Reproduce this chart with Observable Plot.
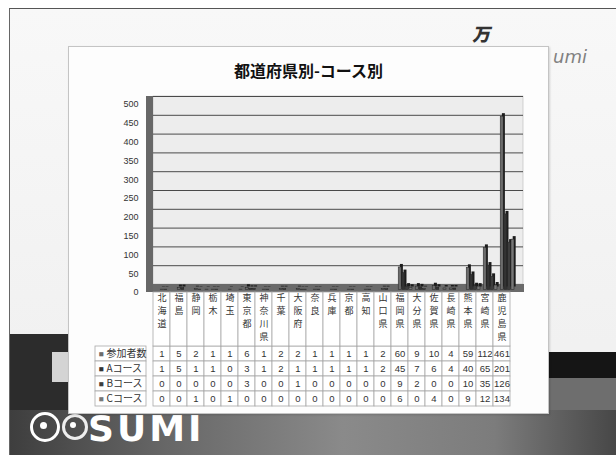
<!DOCTYPE html>
<html><head><meta charset="utf-8">
<script src="https://cdn.jsdelivr.net/npm/d3@7"></script>
<script src="https://cdn.jsdelivr.net/npm/@observablehq/plot@0.6"></script>
<style>
body{margin:0;background:#fff;}
#page{position:relative;width:616px;height:455px;overflow:hidden;background:#fff;font-family:"Liberation Sans","Noto Sans CJK JP",sans-serif;}
.abs{position:absolute;}
</style></head><body>
<div id="page">
  <div class="abs" style="left:9px;top:8px;width:607px;height:447px;background:linear-gradient(180deg,#f8f8f8 0%,#f1f1f1 75%);border-top:1.5px solid #555;border-left:1.5px solid #666;"></div>
  <div class="abs" style="left:10px;top:334px;width:62px;height:80px;background:#2c2c2c"></div>
  <div class="abs" style="left:52px;top:352px;width:20px;height:30px;background:#d4d4d4"></div>
  <div class="abs" style="left:540px;top:352px;width:76px;height:26px;background:#151515"></div>
  <div class="abs" style="left:540px;top:378px;width:76px;height:40px;background:#6e6e6e"></div>
  <div class="abs" style="left:10px;top:410px;width:606px;height:45px;background:linear-gradient(90deg,#3e3e3e 0%,#666 25%,#8a8a8a 55%,#7c7c7c 80%,#474747 100%)"></div>
  <div class="abs" style="left:30px;top:412px;width:24px;height:24px;border:3px solid #fff;border-radius:50%;"></div>
  <div class="abs" style="left:40px;top:422px;width:7px;height:7px;background:#fff;border-radius:50%;"></div>
  <div class="abs" style="left:62px;top:414px;width:20px;height:20px;border:3px solid #eee;border-radius:50%;"></div>
  <div class="abs" style="left:70px;top:422px;width:6px;height:6px;background:#fff;border-radius:50%;"></div>
  <div class="abs" style="left:88px;top:414px;line-height:30px;height:30px;color:#fff;font-family:'DejaVu Sans',sans-serif;font-weight:bold;font-size:36px;letter-spacing:3px;">SUMI</div>
  <div class="abs" style="left:474px;top:20px;color:#333;font-family:'Noto Sans CJK JP';font-weight:900;font-size:18px;transform:skewX(-12deg);">万</div>
  <div class="abs" style="left:68px;top:46px;width:479px;height:366px;background:#fdfdfd;border:1px solid #c4c4c4;box-shadow:1px 1px 2px rgba(0,0,0,0.15);"></div>
  <div class="abs" style="left:553px;top:46px;color:#808080;font-family:'DejaVu Sans',sans-serif;font-style:italic;font-size:18px;">umi</div>
  <div class="abs" id="title" style="left:68px;top:58px;width:481px;text-align:center;font-family:'Noto Sans CJK JP';font-weight:bold;font-size:16px;color:#111;">都道府県別-コース別</div>
  <div class="abs" id="bars" style="left:0;top:90px;"></div>
  <div class="abs" id="table" style="left:0;top:284px;"></div>
</div>
<script>
const categories = ["北海道","福島","静岡","栃木","埼玉","東京都","神奈川県","千葉","大阪府","奈良","兵庫","京都","高知","山口県","福岡県","大分県","佐賀県","長崎県","熊本県","宮崎県","鹿児島県"];
const seriesNames = ["参加者数","Aコース","Bコース","Cコース"];
const participants = [1,5,2,1,1,6,1,2,2,1,1,1,1,2,60,9,10,4,59,112,461];
const courseA = [1,5,1,1,0,3,1,2,1,1,1,1,1,2,45,7,6,4,40,65,201];
const courseB = [0,0,0,0,0,3,0,0,1,0,0,0,0,0,9,2,0,0,10,35,126];
const courseC = [0,0,1,0,1,0,0,0,0,0,0,0,0,0,6,0,4,0,9,12,134];
const yDomain = [0, 500];
const seriesColors = ["#6c6c6c","#333333","#3d3d3d","#777777"];

const seriesValues = [participants, courseA, courseB, courseC];
const rows = categories.flatMap((c, i) => seriesNames.map((s, j) => ({cat: c, series: s, value: seriesValues[j][i]})));

const W = 616, ML = 146, MR = 100;
const plotW = W - ML - MR;
const bw = plotW / categories.length;
const barW = 3.6, barL = 3.4;
const font = "'Liberation Sans','Noto Sans CJK JP',sans-serif";

const barMarks = [];
seriesNames.forEach((s, j) => {
  const data = rows.filter(d => d.series === s);
  const opts = {x: "cat", y: "value", insetLeft: barL + j * barW, insetRight: bw - barL - (j + 1) * barW};
  barMarks.push(Plot.barY(data, {...opts, fill: "#1c1c1c", dx: 5.5, dy: -5.5}));
  barMarks.push(Plot.barY(data, {...opts, fill: seriesColors[j], stroke: "#222", strokeWidth: 0.5, dx: 3.8, dy: -2.5}));
});

const bars = Plot.plot({
  width: W, height: 210,
  marginLeft: ML, marginRight: MR, marginTop: 14, marginBottom: 8,
  style: {background: "transparent", fontFamily: font, fontSize: "9px", color: "#333"},
  x: {domain: categories, padding: 0, axis: null},
  y: {domain: yDomain, ticks: 10, tickSize: 0, tickPadding: 8, label: null, tickFormat: d => String(d)},
  marks: [
    Plot.rect([0], {y1: 0, y2: 500, dx: 7, dy: -8, fill: "#ededed", stroke: "#b8b8b8", strokeWidth: 0.6}),
    Plot.ruleY(d3.ticks(yDomain[0], yDomain[1], 10).slice(1), {dx: 7, dy: -8, stroke: "#4a4a4a", strokeWidth: 1}),
    Plot.rect([0], {y1: 0, y2: 0, insetTop: -8, insetRight: -8, fill: "#6a6a6a"}),
    Plot.rect([0], {y1: 0, y2: 500, insetTop: -8, insetRight: plotW - 7, fill: "#676767"}),
    ...barMarks
  ]
});
document.getElementById("bars").appendChild(bars);

const bh = 15;
const cells = rows;
const maxLen = d3.max(categories, d => d.length);
const headerMarks = d3.range(maxLen).map(k =>
  Plot.text(categories.filter(d => d.length > k), {x: d => d, text: d => d[k], frameAnchor: "top", lineAnchor: "top", dy: -52 + k * 13.1, fontSize: 9, fill: "#333", fontFamily: "'Noto Sans CJK JP'"})
);
const table = Plot.plot({
  width: W, height: 124,
  marginLeft: ML, marginRight: MR, marginTop: 62, marginBottom: 2,
  style: {background: "transparent", fontFamily: font, fontSize: "9.5px", color: "#333"},
  x: {domain: categories, padding: 0, axis: null},
  y: {domain: seriesNames, padding: 0, axis: null},
  color: {domain: seriesNames, range: seriesColors},
  marks: [
    Plot.cell(cells, {x: "cat", y: "series", fill: "#fff", stroke: "#a8a8a8", strokeWidth: 0.8}),
    Plot.cell(categories, {x: d => d, y: () => seriesNames[0], insetTop: -54, insetBottom: bh, fill: "#fff", stroke: "#a8a8a8", strokeWidth: 0.8}),
    Plot.cell(seriesNames, {y: d => d, insetLeft: -51, insetRight: plotW, fill: "#fff", stroke: "#a8a8a8", strokeWidth: 0.8}),
    ...headerMarks,
    Plot.text(cells, {x: "cat", y: "series", text: d => String(d.value), fontSize: 9.5, fill: "#333"}),
    Plot.text(seriesNames, {y: d => d, text: () => "■", fill: d => d, frameAnchor: "left", dx: -48, textAnchor: "start", fontSize: 8.5}),
    Plot.text(seriesNames, {y: d => d, text: d => d, frameAnchor: "left", dx: -40, textAnchor: "start", fontSize: 10, fill: "#333", fontFamily: "'Noto Sans CJK JP'"})
  ]
});
document.getElementById("table").appendChild(table);
</script>
</body></html>
